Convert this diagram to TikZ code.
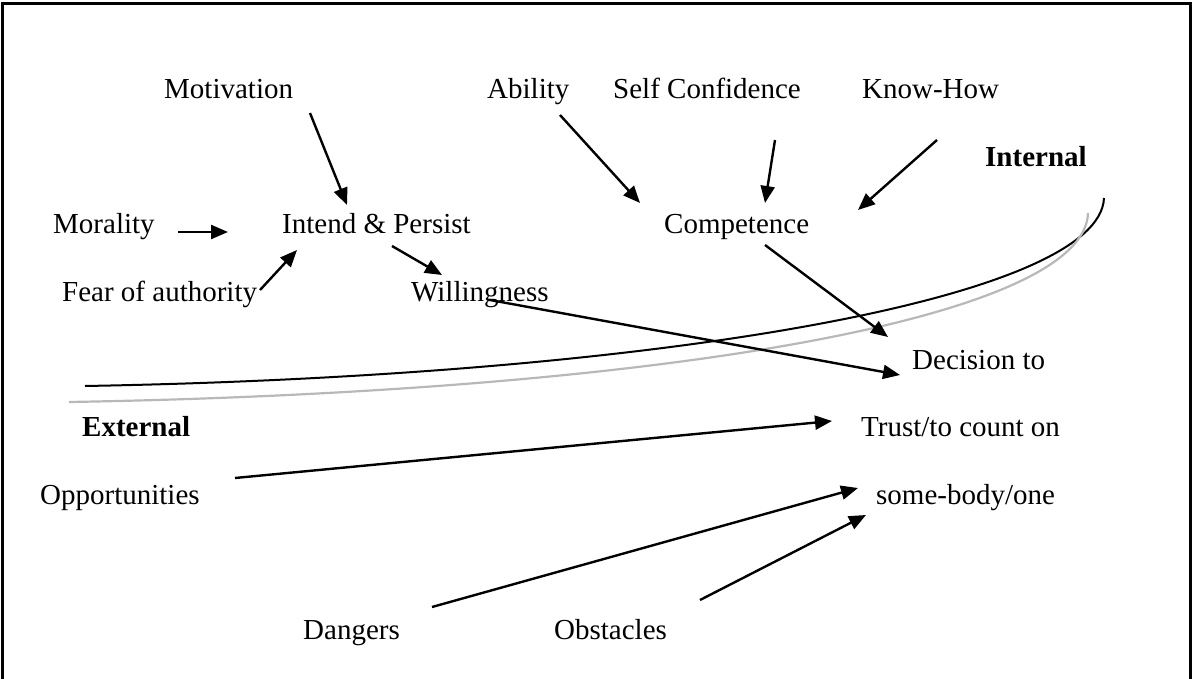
\documentclass[tikz,border=0pt]{standalone}
\usepackage{fontspec}
\setmainfont{Liberation Serif}
\usetikzlibrary{arrows.meta}
\begin{document}
\begin{tikzpicture}[x=1pt,y=-1pt,
  lbl/.style={anchor=base west, inner sep=0pt, font=\fontsize{29}{34}\selectfont},
  blbl/.style={anchor=base west, inner sep=0pt, font=\fontsize{29}{34}\selectfont\bfseries},
  arr/.style={line width=2.4pt, -{Triangle[length=17pt,width=14pt]}},
  frame/.style={line width=3pt},
  divblack/.style={line width=2pt, black},
  divgray/.style={line width=2.2pt, black!28},
]
\useasboundingbox (0,0) rectangle (1192,679);
\draw[frame] (2,679) -- (2,4) -- (1190,4) -- (1190,679);

% labels
\node[lbl] (mot) at (164,99) {Motivation};
\node[lbl] (abi) at (487,99) {Ability};
\node[lbl] (self) at (613,99) {Self Confidence};
\node[lbl] (know) at (862,99) {Know-How};
\node[blbl] (int) at (985,166.5) {Internal};
\node[lbl] (mor) at (53,234) {Morality};
\node[lbl] (intend) at (282,234) {Intend \& Persist};
\node[lbl] (comp) at (664,234) {Competence};
\node[lbl] (fear) at (62,301.5) {Fear of authority};
\node[lbl] (will) at (411,301.5) {Willingness};
\node[lbl] (dec) at (912,369) {Decision to};
\node[blbl] (ext) at (82,436.5) {External};
\node[lbl] (trust) at (861,436.5) {Trust/to count on};
\node[lbl] (opp) at (40,504) {Opportunities};
\node[lbl] (some) at (876,504) {some-body/one};
\node[lbl] (dang) at (303,639) {Dangers};
\node[lbl] (obs) at (554,639) {Obstacles};

% internal / external divider
\draw[divblack] (85,386) .. controls (650,376) and (1100,300) .. (1104,198);
\draw[divgray] (69,402) .. controls (650,392) and (1085,320) .. (1088,213);

% arrows
\draw[arr] ([shift={(146,14)}]mot.base west) -- ([shift={(65,-29)}]intend.base west);
\draw[arr] ([shift={(125,-2)}]mor.base west) -- ([shift={(-54,-2)}]intend.base west);
\draw[arr] ([shift={(198,-11.5)}]fear.base west) -- ([shift={(15,16)}]intend.base west);
\draw[arr] ([shift={(110,12)}]intend.base west) -- ([shift={(31,-26.5)}]will.base west);
\draw[arr] ([shift={(73,16)}]abi.base west) -- ([shift={(-24,-31)}]comp.base west);
\draw[arr] ([shift={(162,41)}]self.base west) -- ([shift={(101,-31)}]comp.base west);
\draw[arr] ([shift={(75,41)}]know.base west) -- ([shift={(194,-24)}]comp.base west);
\draw[arr] ([shift={(101,11)}]comp.base west) -- ([shift={(-24,-32)}]dec.base west);
\draw[arr] ([shift={(79,-1.5)}]will.base west) -- ([shift={(-12,6)}]dec.base west);
\draw[arr] ([shift={(195,-26)}]opp.base west) -- ([shift={(-29,-15.5)}]trust.base west);
\draw[arr] ([shift={(129,-32)}]dang.base west) -- ([shift={(-18,-16)}]some.base west);
\draw[arr] ([shift={(146,-39)}]obs.base west) -- ([shift={(-10,11)}]some.base west);
\end{tikzpicture}
\end{document}
